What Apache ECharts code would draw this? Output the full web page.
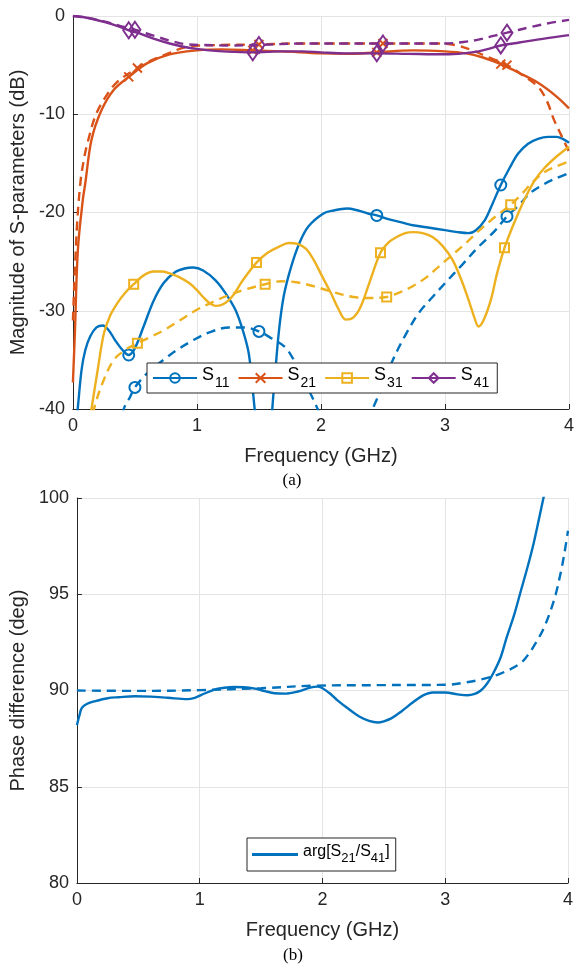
<!DOCTYPE html>
<html>
<head>
<meta charset="utf-8">
<script src="https://cdn.jsdelivr.net/npm/echarts/dist/echarts.min.js"></script>
<style>html,body{margin:0;padding:0;background:#fff}#c{width:577px;height:965px}</style>
</head>
<body>
<div id="c"></div>
<script>
// ---------- DATA (frequency in GHz, magnitude in dB) ----------
const freqTicks = [0, 1, 2, 3, 4];
const magTicks = [-40, -30, -20, -10, 0];
const phaseTicks = [80, 85, 90, 95, 100];

const s11Solid = [[0.03,-41],[0.04,-39.8],[0.07,-36],[0.1,-34],[0.14,-32.6],[0.19,-31.7],[0.24,-31.5],[0.29,-32],[0.34,-33],[0.4,-34],[0.45,-34.5],[0.5,-33.8],[0.57,-31.6],[0.65,-29],[0.73,-27.2],[0.82,-26.1],[0.9,-25.7],[0.97,-25.6],[1.05,-25.9],[1.15,-26.9],[1.23,-28.2],[1.31,-29.9],[1.37,-32],[1.42,-34.5],[1.47,-40.5],[1.52,-45],[1.58,-43],[1.62,-38],[1.66,-32.2],[1.7,-28.5],[1.76,-25.5],[1.83,-23],[1.9,-21.4],[2.02,-20.1],[2.1,-19.8],[2.21,-19.6],[2.3,-19.8],[2.38,-20.1],[2.45,-20.3],[2.55,-20.7],[2.65,-21.0],[2.74,-21.3],[2.85,-21.5],[3.0,-21.8],[3.1,-22.0],[3.19,-22.1],[3.25,-21.8],[3.32,-20.8],[3.38,-19.2],[3.45,-17.2],[3.52,-15.5],[3.59,-14],[3.67,-13],[3.75,-12.5],[3.83,-12.3],[3.9,-12.3],[3.95,-12.5],[4.0,-12.9]];
const s11Dashed = [[0.38,-42],[0.41,-40],[0.46,-38.8],[0.5,-37.8],[0.58,-36.6],[0.65,-35.8],[0.73,-35],[0.85,-33.9],[0.97,-33],[1.1,-32.2],[1.26,-31.7],[1.38,-31.7],[1.5,-32.1],[1.6,-32.8],[1.71,-33.7],[1.78,-35],[1.84,-36.7],[1.91,-38.3],[1.97,-39.9],[2.03,-41.5],[2.2,-44],[2.36,-41.5],[2.42,-39.9],[2.5,-37.5],[2.58,-35],[2.68,-32.5],[2.79,-30.2],[2.9,-28.6],[3.0,-27.2],[3.14,-25.3],[3.27,-23.5],[3.4,-21.9],[3.5,-20.4],[3.6,-19.2],[3.69,-18],[3.8,-17.1],[3.9,-16.5],[4.0,-16]];
const s21Solid = [[0,-37.3],[0.016,-32.2],[0.04,-23.8],[0.08,-18.7],[0.1,-17],[0.15,-12.6],[0.23,-9.6],[0.33,-7.5],[0.45,-6.2],[0.6,-4.8],[0.78,-3.9],[1.0,-3.5],[1.2,-3.4],[1.45,-3.5],[1.68,-3.6],[2.0,-3.8],[2.2,-3.85],[2.45,-3.7],[2.74,-3.5],[3.0,-3.6],[3.17,-3.8],[3.3,-4.2],[3.45,-4.9],[3.6,-5.8],[3.75,-6.8],[3.9,-8.2],[4.0,-9.4]];
const s21Dashed = [[0,-31],[0.03,-22],[0.06,-17],[0.09,-14.5],[0.12,-12.8],[0.18,-10.2],[0.25,-8.5],[0.35,-6.8],[0.52,-5.3],[0.62,-4.6],[0.73,-4.0],[0.94,-3.1],[1.2,-2.95],[1.5,-2.9],[1.8,-2.8],[2.2,-2.8],[2.5,-2.8],[2.95,-2.8],[3.1,-3.0],[3.22,-3.5],[3.35,-4.2],[3.5,-5.0],[3.6,-5.8],[3.75,-7.2],[3.82,-8.6],[3.88,-10.6],[3.94,-12.2],[4.0,-13.8]];
const s31Solid = [[0.14,-41],[0.15,-40],[0.2,-36],[0.25,-32.3],[0.3,-30.5],[0.36,-29.2],[0.42,-28.2],[0.49,-27.3],[0.57,-26.4],[0.65,-26],[0.72,-26],[0.78,-26.2],[0.86,-26.6],[0.94,-27.2],[1.0,-27.9],[1.05,-28.6],[1.1,-29.2],[1.15,-29.5],[1.2,-29.4],[1.26,-28.9],[1.31,-28.1],[1.37,-26.9],[1.48,-25.1],[1.57,-24.1],[1.66,-23.5],[1.74,-23.1],[1.81,-23.2],[1.88,-23.7],[1.94,-24.8],[2.01,-26.5],[2.08,-28.2],[2.14,-29.8],[2.2,-30.9],[2.26,-30.7],[2.32,-29.6],[2.4,-26.8],[2.48,-24.1],[2.55,-23],[2.61,-22.5],[2.68,-22.1],[2.74,-22],[2.82,-22.1],[2.9,-22.5],[2.98,-23.4],[3.06,-24.8],[3.13,-26.8],[3.19,-28.9],[3.24,-30.8],[3.27,-31.6],[3.31,-31],[3.37,-28.9],[3.42,-26.2],[3.48,-23.6],[3.56,-21],[3.64,-18.7],[3.72,-16.8],[3.8,-15.5],[3.9,-14.3],[4.0,-13.3]];
const s31Dashed = [[0.15,-42],[0.17,-40],[0.25,-37],[0.33,-35],[0.42,-34],[0.52,-33.3],[0.62,-32.7],[0.73,-32],[0.86,-31],[1.0,-29.9],[1.13,-29.1],[1.26,-28.4],[1.4,-27.8],[1.55,-27.3],[1.68,-27],[1.8,-27.1],[1.94,-27.5],[2.1,-28.1],[2.26,-28.6],[2.4,-28.7],[2.53,-28.6],[2.64,-28.1],[2.74,-27.5],[2.85,-26.6],[2.95,-25.5],[3.06,-24.3],[3.17,-23.1],[3.27,-21.9],[3.37,-20.8],[3.45,-20],[3.53,-19.2],[3.62,-18.1],[3.7,-17],[3.8,-15.9],[3.9,-15.3],[4.0,-14.8]];
const s41Solid = [[0,0],[0.1,-0.15],[0.25,-0.6],[0.38,-1.1],[0.45,-1.45],[0.52,-1.7],[0.65,-2.3],[0.78,-2.8],[0.9,-3.15],[1.0,-3.35],[1.15,-3.55],[1.3,-3.65],[1.45,-3.7],[1.57,-3.65],[1.68,-3.6],[1.85,-3.6],[2.0,-3.7],[2.2,-3.8],[2.45,-3.8],[2.7,-3.85],[3.0,-3.9],[3.15,-3.8],[3.27,-3.6],[3.38,-3.25],[3.45,-3.0],[3.6,-2.7],[3.8,-2.3],[4.0,-1.95]];
const s41Dashed = [[0,0],[0.1,-0.15],[0.25,-0.55],[0.38,-1.0],[0.5,-1.4],[0.65,-2.0],[0.78,-2.5],[0.9,-2.85],[1.05,-2.95],[1.25,-3.0],[1.5,-2.95],[1.84,-2.8],[2.2,-2.8],[2.5,-2.8],[3.0,-2.8],[3.15,-2.65],[3.27,-2.4],[3.4,-2.0],[3.5,-1.7],[3.7,-1.1],[3.85,-0.7],[4.0,-0.4]];

// marker positions (GHz) for each curve
const s11SolidMarks = [0.45, 2.45, 3.45];
const s11DashedMarks = [0.5, 1.5, 3.5];
const s21SolidMarks = [0.45, 1.45, 2.45, 3.45];
const s21DashedMarks = [0.52, 1.5, 2.5, 3.5];
const s31SolidMarks = [0.49, 1.48, 2.48, 3.48];
const s31DashedMarks = [0.52, 1.55, 2.53, 3.53];
const s41SolidMarks = [0.45, 1.45, 2.45, 3.45];
const s41DashedMarks = [0.5, 1.5, 2.5, 3.5];

// phase difference arg[S21/S41] (deg)
const phaseSolid = [[0,88.2],[0.02,88.7],[0.04,89.1],[0.08,89.3],[0.15,89.45],[0.25,89.6],[0.34,89.65],[0.47,89.7],[0.6,89.68],[0.74,89.62],[0.9,89.55],[0.96,89.62],[1.01,89.76],[1.12,90.05],[1.2,90.14],[1.28,90.18],[1.36,90.17],[1.45,90.1],[1.53,89.97],[1.61,89.86],[1.7,89.84],[1.8,89.95],[1.9,90.15],[1.96,90.2],[2.05,89.9],[2.12,89.5],[2.2,89.1],[2.3,88.65],[2.38,88.42],[2.45,88.34],[2.5,88.4],[2.56,88.55],[2.65,88.95],[2.74,89.4],[2.82,89.75],[2.9,89.9],[3.0,89.9],[3.1,89.8],[3.18,89.75],[3.24,89.82],[3.29,90.0],[3.34,90.35],[3.39,90.88],[3.45,91.7],[3.5,92.75],[3.56,93.9],[3.61,95.04],[3.67,96.4],[3.72,97.64],[3.76,98.8],[3.8,100],[3.85,101.5]];
const phaseDashed = [[0,90.0],[0.5,89.98],[1.0,90.02],[1.5,90.12],[1.93,90.25],[2.5,90.28],[3.02,90.3],[3.15,90.4],[3.29,90.57],[3.45,90.88],[3.61,91.4],[3.68,91.9],[3.75,92.6],[3.8,93.2],[3.85,94],[3.9,95],[3.94,96.1],[3.97,97.1],[4.0,98.3]];

// ---------- STYLE ----------
const FONT = '"Liberation Sans", Arial, Helvetica, sans-serif';
const SERIF = '"Liberation Serif", "Times New Roman", serif';
const AX = '#262626';
const GRIDC = '#e4e4e4';
const C = {s11:'#0072BD', s21:'#D95319', s31:'#EDB120', s41:'#7E2F8E'};
const DASH = [9, 6];
const XSYM = 'path://M0,0L10,10M0,10L10,0';
const SMOOTH = 0.35;

function withMarks(data, marks){
  return data.map(p => marks.some(m => Math.abs(m - p[0]) < 1e-6) ? {value: p} : {value: p, symbol: 'none'});
}
function sSeries(name, data, marks, color, dashed, symbol, size, z){
  return {
    name, type: 'line', xAxisIndex: 0, yAxisIndex: 0,
    data: withMarks(data, marks), smooth: SMOOTH,
    symbol, symbolSize: size, showSymbol: true, showAllSymbol: true,
    lineStyle: {color, width: 2.4, type: dashed ? DASH : 'solid'},
    itemStyle: {color: 'rgba(255,255,255,0)', borderColor: color, borderWidth: 2},
    clip: true, z, emphasis: {disabled: true}
  };
}
function axisCommon(){
  return {
    axisLine: {show: true, onZero: false, lineStyle: {color: AX, width: 1}},
    axisTick: {show: true, inside: true, length: 5, lineStyle: {color: AX}},
    axisLabel: {color: AX, fontSize: 18, fontFamily: FONT, margin: 8},
    splitLine: {show: true, lineStyle: {color: GRIDC, width: 1}},
    nameTextStyle: {color: AX, fontSize: 20, fontFamily: FONT},
    nameLocation: 'middle'
  };
}

const chart = echarts.init(document.getElementById('c'), null, {renderer: 'canvas'});
const option = {
  animation: false,
  backgroundColor: '#fff',
  grid: [
    {left: 68, top: 16, width: 504, height: 393, containLabel: false},
    {left: 75, top: 498, width: 493, height: 385, containLabel: false}
  ],
  xAxis: [
    Object.assign(axisCommon(), {type: 'value', gridIndex: 0, min: freqTicks[0], max: freqTicks[freqTicks.length-1], interval: 1, name: 'Frequency (GHz)', nameGap: 37}),
    Object.assign(axisCommon(), {type: 'value', gridIndex: 1, min: freqTicks[0], max: freqTicks[freqTicks.length-1], interval: 1, name: 'Frequency (GHz)', nameGap: 37})
  ],
  yAxis: [
    Object.assign(axisCommon(), {type: 'value', gridIndex: 0, min: magTicks[0], max: magTicks[magTicks.length-1], interval: 10, name: 'Magnitude of S-parameters (dB)', nameGap: 38}),
    Object.assign(axisCommon(), {type: 'value', gridIndex: 1, min: phaseTicks[0], max: phaseTicks[phaseTicks.length-1], interval: 5, name: 'Phase difference (deg)', nameGap: 42})
  ],
  legend: [
    {
      data: ['S11', 'S21', 'S31', 'S41'], left: 147, top: 363, orient: 'horizontal',
      itemWidth: 44, itemHeight: 12, itemGap: 8, padding: [3, 8, 3, 5],
      borderColor: AX, borderWidth: 1, backgroundColor: '#fff', selectedMode: false,
      formatter: n => '{m|S}{s|' + n.slice(1) + '}',
      textStyle: {color: '#000', fontFamily: FONT, rich: {
        m: {fontSize: 18, fontFamily: FONT, color: '#000', lineHeight: 18, verticalAlign: 'top'},
        s: {fontSize: 14, fontFamily: FONT, color: '#000', lineHeight: 24, verticalAlign: 'bottom', padding: [0, 0, 0, 1]}
      }}
    },
    {
      data: [{name: 'arg[S21/S41]', icon: 'rect'}], left: 247, top: 838, orient: 'horizontal',
      itemWidth: 46, itemHeight: 3, padding: [6, 6, 6, 5],
      borderColor: AX, borderWidth: 1, backgroundColor: '#fff', selectedMode: false,
      formatter: () => '{m|arg[S}{s|21}{m|/S}{s|41}{m|]}',
      textStyle: {color: '#000', fontFamily: FONT, rich: {
        m: {fontSize: 16, fontFamily: FONT, color: '#000', lineHeight: 16, verticalAlign: 'top'},
        s: {fontSize: 13, fontFamily: FONT, color: '#000', lineHeight: 21, verticalAlign: 'bottom'}
      }}
    }
  ],
  graphic: [
    {type: 'text', x: 292, y: 481, style: {text: '(a)', fontSize: 17, fontFamily: SERIF, fill: '#000', align: 'center', verticalAlign: 'middle'}},
    {type: 'text', x: 293, y: 956, style: {text: '(b)', fontSize: 17, fontFamily: SERIF, fill: '#000', align: 'center', verticalAlign: 'middle'}}
  ],
  series: [
    sSeries('S11', s11Solid, s11SolidMarks, C.s11, false, 'circle', 11, 2),
    sSeries('S21', s21Solid, s21SolidMarks, C.s21, false, XSYM, 9, 3),
    sSeries('S31', s31Solid, s31SolidMarks, C.s31, false, 'rect', 9, 4),
    sSeries('S41', s41Solid, s41SolidMarks, C.s41, false, 'diamond', [11, 16], 5),
    sSeries('S11 dashed', s11Dashed, s11DashedMarks, C.s11, true, 'circle', 11, 2),
    sSeries('S21 dashed', s21Dashed, s21DashedMarks, C.s21, true, XSYM, 9, 3),
    sSeries('S31 dashed', s31Dashed, s31DashedMarks, C.s31, true, 'rect', 9, 4),
    sSeries('S41 dashed', s41Dashed, s41DashedMarks, C.s41, true, 'diamond', [11, 16], 5),
    {
      name: 'arg[S21/S41]', type: 'line', xAxisIndex: 1, yAxisIndex: 1, data: phaseSolid,
      smooth: SMOOTH, symbol: 'none', clip: true,
      lineStyle: {color: C.s11, width: 2.4}, itemStyle: {color: C.s11}, emphasis: {disabled: true}
    },
    {
      name: 'phase dashed', type: 'line', xAxisIndex: 1, yAxisIndex: 1, data: phaseDashed,
      smooth: SMOOTH, symbol: 'none', clip: true,
      lineStyle: {color: C.s11, width: 2.4, type: DASH}, itemStyle: {color: C.s11}, emphasis: {disabled: true}
    }
  ]
};
chart.setOption(option);
</script>
</body>
</html>
